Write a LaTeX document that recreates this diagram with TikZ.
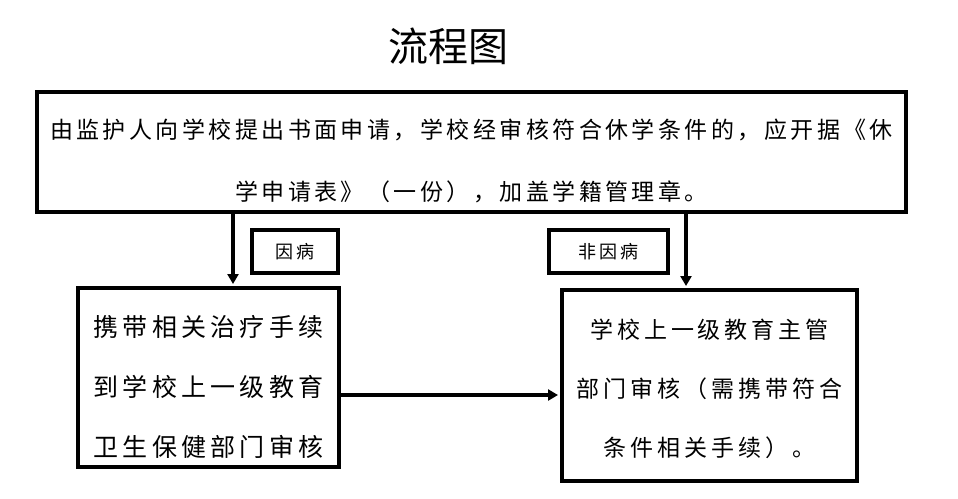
\documentclass[tikz,border=0pt]{standalone}
\usepackage{fontspec}
\setmainfont{Noto Sans CJK SC}
\usetikzlibrary{arrows.meta}

\begin{document}
\begin{tikzpicture}[x=1pt,y=-1pt,
    box/.style={draw, line width=4pt, inner sep=0pt},
    tag/.style={box, minimum height=43pt, font=\fontsize{18}{20}\selectfont\addfontfeatures{LetterSpace=18}},
    body/.style={align=center},
    flow/.style={line width=4pt, -{Triangle[length=10pt,width=11pt]}, shorten >=2pt}]
    \useasboundingbox (0,0) rectangle (958,498);
    \node[font=\fontsize{40}{48}\selectfont] (title) at (448,46) {流程图};
    % application box
    \node[box, minimum width=869pt, minimum height=120pt] (apply) at (471.5,152) {};
    \node[body, font=\fontsize{23}{62}\selectfont\addfontfeatures{LetterSpace=15}] (applytext) at ([yshift=-9pt]apply.center)
        {由监护人向学校提出书面申请，学校经审核符合休学条件的，应开据《休\\学申请表》（一份），加盖学籍管理章。};
    % two ways
    \node[box, minimum width=261pt, minimum height=179pt] (ill) at (208.5,377.5) {};
    \node[body, font=\fontsize{25}{60}\selectfont\addfontfeatures{LetterSpace=17}] (illtext) at ([yshift=-9.5pt]ill.center)
        {携带相关治疗手续\\到学校上一级教育\\卫生保健部门审核};
    \node[box, minimum width=295pt, minimum height=191pt] (review) at (709.5,385.5) {};
    \node[body, font=\fontsize{23}{59}\selectfont\addfontfeatures{LetterSpace=17}] (reviewtext) at ([yshift=-3.5pt]review.center)
        {学校上一级教育主管\\部门审核（需携带符合\\条件相关手续）。};
    \node[tag, minimum width=86pt] (sick) at (295,251.5) {因病};
    \node[tag, minimum width=119pt] (notsick) at (608.5,251.5) {非因病};
    \draw[flow] ([xshift=24.5pt]ill.north |- apply.south) -- ([xshift=24.5pt]ill.north);
    \draw[flow] ([xshift=-23.5pt]review.north |- apply.south) -- ([xshift=-23.5pt]review.north);
    \draw[flow] ([yshift=-17.5pt]ill.east) -- ([yshift=-17.5pt]ill.east -| review.west);
\end{tikzpicture}
\end{document}
